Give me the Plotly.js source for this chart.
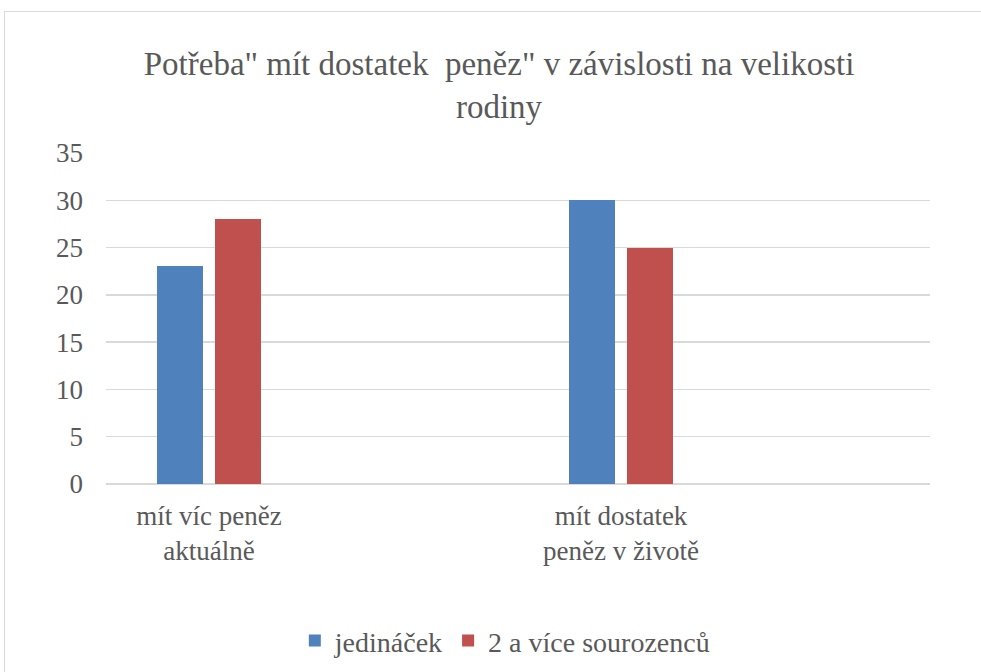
<!DOCTYPE html>
<html>
<head>
<meta charset="utf-8">
<script src="https://cdn.plot.ly/plotly-3.0.1.min.js"></script>
<style>
  html, body { margin: 0; padding: 0; background: #fff; overflow: hidden; }
  #chart { width: 981px; height: 672px; }
  #frame { position: absolute; left: 4px; top: 11px; width: 1000px; height: 700px;
           border: 1px solid #d9d9d9; pointer-events: none; }
</style>
</head>
<body>
<div id="chart"></div>
<div id="frame"></div>
<script>
// Data
const categories = ["mít víc peněz<br>aktuálně", " ", "mít dostatek<br>peněz v životě", "  "];
const dataCategories = ["mít víc peněz<br>aktuálně", "mít dostatek<br>peněz v životě"];
const seriesNames = ["jedináček", "2 a více sourozenců"];
const jedinacek = [23, 30];
const sourozenci = [28, 25];
const yTicks = [0, 5, 10, 15, 20, 25, 30, 35];

const serif = "'Liberation Serif', 'Times New Roman', Times, serif";
const grey = "#595959";

const traces = [
  { type: "bar", name: seriesNames[0], x: dataCategories, y: jedinacek,
    marker: { color: "#4f81bd" }, width: 0.222, offset: -0.2534, hoverinfo: "y" },
  { type: "bar", name: seriesNames[1], x: dataCategories, y: sourozenci,
    marker: { color: "#c0504d" }, width: 0.222, offset: 0.0296, hoverinfo: "y" }
];

const layout = {
  width: 981, height: 672,
  margin: { l: 106, r: 51, t: 153, b: 188, autoexpand: false },
  paper_bgcolor: "#ffffff", plot_bgcolor: "#ffffff",
  font: { family: serif, color: grey, size: 27 },
  title: {
    text: "Potřeba\" mít dostatek  peněz\" v závislosti na velikosti<br>rodiny",
    font: { family: serif, size: 33, color: grey },
    xref: "paper", x: 0.477, xanchor: "center",
    yref: "container", y: 0.888, yanchor: "top"
  },
  xaxis: {
    type: "category", categoryorder: "array", categoryarray: categories,
    range: [-0.5, 3.5], fixedrange: true, automargin: false,
    showgrid: false, zeroline: false, showline: false, ticks: "",
    tickfont: { family: serif, size: 27, color: grey },
    ticklabelstandoff: 13
  },
  yaxis: {
    range: [0, 35], tickvals: yTicks, fixedrange: true, automargin: false,
    showgrid: true, gridcolor: "#d9d9d9", gridwidth: 1.5,
    zeroline: true, zerolinecolor: "#d9d9d9", zerolinewidth: 1.5,
    showline: false, ticks: "",
    tickfont: { family: serif, size: 27, color: grey },
    ticklabelstandoff: 22
  },
  showlegend: true,
  legend: {
    orientation: "h", xref: "paper", x: 0.484, xanchor: "center",
    yref: "paper", y: -0.474, yanchor: "middle",
    font: { family: serif, size: 28, color: grey },
    bgcolor: "rgba(0,0,0,0)"
  },
  bargap: 0, bargroupgap: 0
};

Plotly.newPlot("chart", traces, layout, { displayModeBar: false, staticPlot: true });
</script>
</body>
</html>
